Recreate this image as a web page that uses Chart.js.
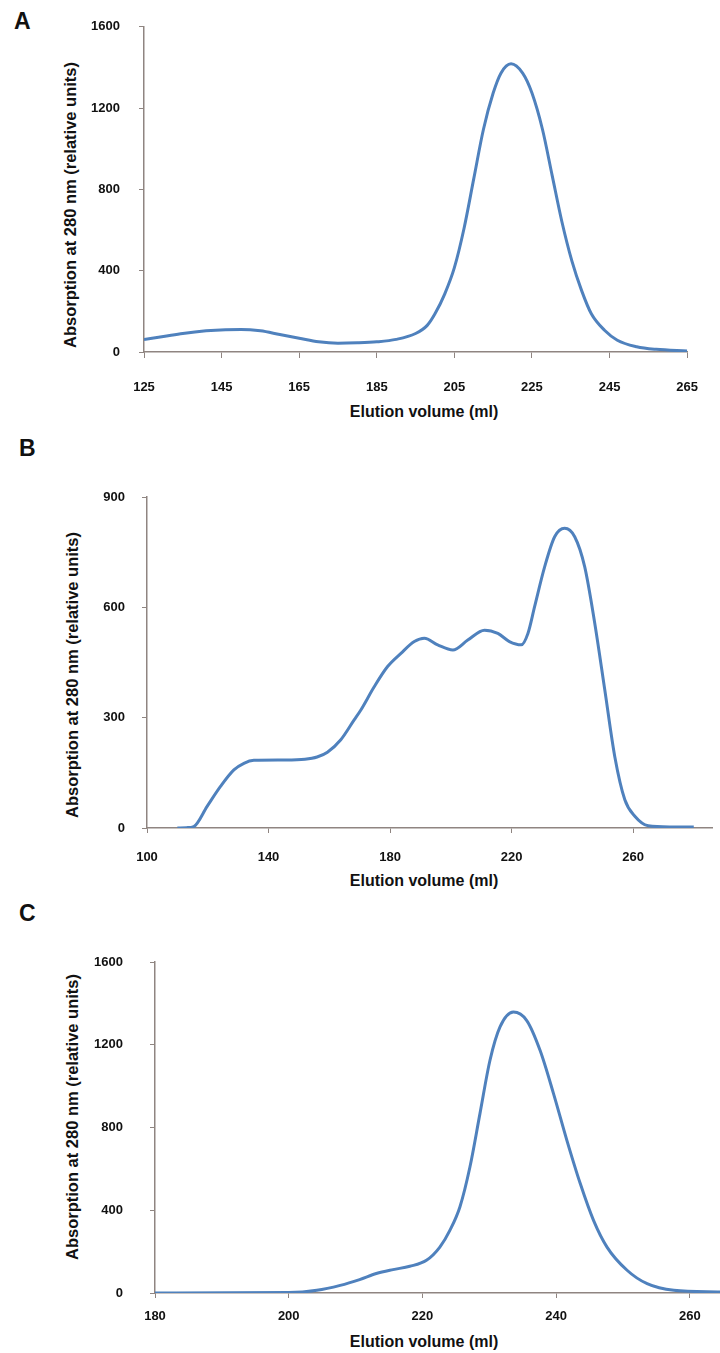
<!DOCTYPE html>
<html>
<head>
<meta charset="utf-8">
<script src="https://cdn.jsdelivr.net/npm/chart.js@4"></script>
<style>
  body { margin: 0; background: #fff; width: 720px; height: 1353px; position: relative; overflow: hidden;
         font-family: "Liberation Sans", Arial, sans-serif; }
  canvas { position: absolute; left: 0; }
  .lbl { position: absolute; font-weight: bold; color: #111; white-space: nowrap; line-height: 1; }
  .panel { font-size: 23px; }
  .ttl { font-size: 16px; transform: translate(-50%, -50%); }
  .ttl.rot { font-size: 16.5px; transform: translate(-50%, -50%) rotate(-90deg); }
</style>
</head>
<body>
<div class="lbl panel" style="left:14px;top:10px">A</div>
<div class="lbl panel" style="left:19px;top:437px">B</div>
<div class="lbl panel" style="left:19px;top:902px">C</div>

<div class="lbl ttl rot" style="left:70px;top:205px">Absorption at 280 nm (relative units)</div>
<div class="lbl ttl rot" style="left:72px;top:675px">Absorption at 280 nm (relative units)</div>
<div class="lbl ttl rot" style="left:72px;top:1117px">Absorption at 280 nm (relative units)</div>

<div class="lbl ttl" style="left:424px;top:412px">Elution volume (ml)</div>
<div class="lbl ttl" style="left:424px;top:881px">Elution volume (ml)</div>
<div class="lbl ttl" style="left:424px;top:1342px">Elution volume (ml)</div>

<canvas id="chartA" width="720" height="425" style="top:0"></canvas>
<canvas id="chartB" width="720" height="465" style="top:425px"></canvas>
<canvas id="chartC" width="720" height="463" style="top:890px"></canvas>

<script>
// panel A
const volA = [125, 130, 135, 141, 146, 150, 155, 160, 165, 170, 175, 180, 185, 190, 195, 198, 200, 202.5, 205, 207.5, 210, 212.5, 215, 217, 219.6, 222.6, 225, 227.7, 230.2, 232.7, 235.3, 237.8, 240.3, 243.7, 247, 252, 257, 265];
const absA = [62, 76, 91, 104, 110, 111, 104, 86, 68, 50, 43, 45, 50, 62, 91, 131, 188, 285, 415, 609, 853, 1096, 1274, 1372, 1418, 1372, 1274, 1096, 869, 642, 447, 302, 188, 107, 58, 26, 13, 5];
const xTicksA = [125, 145, 165, 185, 205, 225, 245, 265];
const yTicksA = [0, 400, 800, 1200, 1600];

// panel B
const volB = [110, 113, 115.4, 119.8, 124.2, 128.6, 131.9, 135.2, 145, 152, 156, 159.4, 163.8, 168.2, 170.4, 174.8, 179.2, 183.6, 188, 191.3, 195.7, 200.7, 205.6, 211.1, 215.5, 219.3, 223.2, 225.4, 227.6, 230.9, 234.2, 237.5, 240.8, 244.1, 247.4, 250.7, 254, 257.3, 260.6, 265, 272, 280];
const absB = [0, 1, 4, 59, 113, 158, 176, 184, 185, 187, 193, 206, 240, 294, 321, 384, 439, 475, 507, 516, 498, 484, 511, 538, 529, 507, 498, 529, 602, 710, 792, 815, 792, 710, 557, 376, 194, 77, 32, 6, 3, 3];
const xTicksB = [100, 140, 180, 220, 260];
const yTicksB = [0, 300, 600, 900];

// panel C
const volC = [180, 200, 204.2, 207.7, 210.6, 213.1, 215.6, 218.1, 220.6, 222.6, 224.1, 225.6, 227.1, 228.6, 230.1, 231.6, 233.6, 235.6, 237.6, 239.6, 241.6, 243.6, 245.6, 247.6, 250.6, 253.6, 257.6, 264.5];
const absC = [0, 2, 13, 37, 65, 94, 113, 129, 158, 222, 303, 416, 609, 867, 1125, 1286, 1358, 1317, 1172, 964, 738, 529, 350, 222, 110, 45, 13, 5];
const xTicksC = [180, 200, 220, 240, 260];
const yTicksC = [0, 400, 800, 1200, 1600];

const axisColor = '#8f8581';
const lineColor = '#4f81bd';
const tickFont = { family: '"Liberation Sans", Arial, sans-serif', size: 13, weight: 'bold' };

function makeChart(id, vols, vals, xTicks, yTicks, o) {
  const pts = vols.map((v, i) => ({ x: v, y: vals[i] }));
  const ctx = document.getElementById(id).getContext('2d');
  return new Chart(ctx, {
    type: 'line',
    data: {
      datasets: [{
        data: pts,
        borderColor: lineColor,
        borderWidth: 3,
        pointRadius: 0,
        fill: false,
        cubicInterpolationMode: 'monotone'
      }]
    },
    options: {
      responsive: false,
      animation: false,
      layout: { padding: { top: o.top, right: o.right, bottom: 0, left: 0 } },
      plugins: { legend: { display: false }, tooltip: { enabled: false } },
      scales: {
        x: {
          type: 'linear',
          min: o.xmin,
          max: o.xmax,
          afterBuildTicks: s => { s.ticks = xTicks.map(v => ({ value: v })); },
          afterFit: s => { s.height = o.h - o.bottom; },
          grid: { drawOnChartArea: false, drawTicks: true, tickLength: o.xtl, color: axisColor },
          border: { color: axisColor, width: 1.5 },
          ticks: { font: tickFont, color: '#111', padding: o.xpad, maxRotation: 0, callback: v => String(v) }
        },
        y: {
          min: 0,
          max: yTicks[yTicks.length - 1],
          afterBuildTicks: s => { s.ticks = yTicks.map(v => ({ value: v })); },
          afterFit: s => { s.width = o.left; },
          grid: { drawOnChartArea: false, drawTicks: true, tickLength: 5, color: axisColor },
          border: { color: axisColor, width: 1.5 },
          ticks: { font: tickFont, color: '#111', padding: o.ypad, callback: v => String(v) }
        }
      }
    }
  });
}

makeChart('chartA', volA, absA, xTicksA, yTicksA,
  { top: 23, right: 23, left: 144, bottom: 352, h: 425, xmin: 125, xmax: 265, xtl: 6, xpad: 22, ypad: 19 });
makeChart('chartB', volB, absB, xTicksB, yTicksB,
  { top: 72, right: 8, left: 147, bottom: 403, h: 465, xmin: 100, xmax: 286, xtl: 5, xpad: 17, ypad: 17 });
makeChart('chartC', volC, absC, xTicksC, yTicksC,
  { top: 72, right: 0, left: 155, bottom: 403, h: 463, xmin: 180, xmax: 264.5, xtl: 5, xpad: 11, ypad: 27 });
</script>
</body>
</html>
